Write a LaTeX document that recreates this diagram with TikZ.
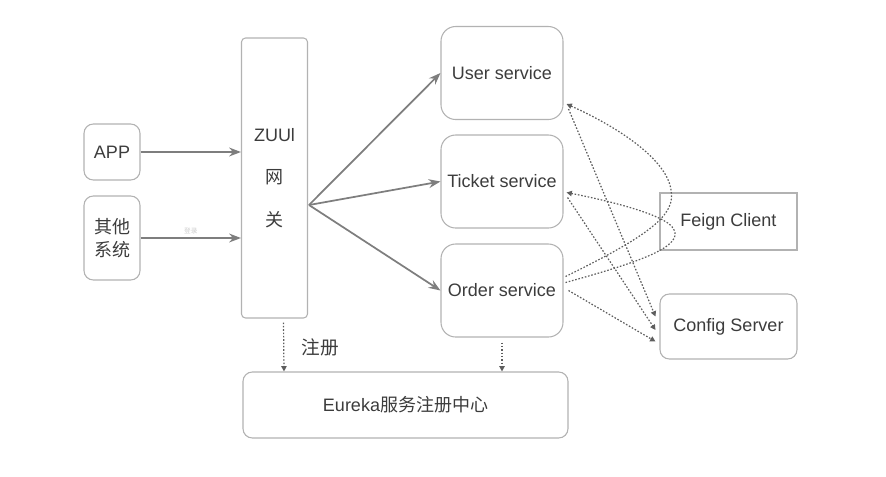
\documentclass[tikz,border=0pt]{standalone}
\usepackage{fontspec}
\setmainfont{Liberation Sans}
\newfontfamily\cjk{Noto Sans CJK SC}
\usetikzlibrary{arrows.meta, calc}
\definecolor{boxgray}{HTML}{B2B2B2}
\definecolor{txtgray}{HTML}{3C3C3C}
\definecolor{arrgray}{HTML}{7E7E7E}
\definecolor{dotgray}{HTML}{5E5E5E}

\begin{document}
\begin{tikzpicture}[x=0.75pt, y=-0.75pt, font=\fontsize{13.5}{16}\selectfont, >=Stealth,
    box/.style={draw=boxgray, line width=0.8pt, text=txtgray, align=center, inner sep=0pt},
    srv/.style={box, rounded corners=11pt, minimum width=91.5pt, minimum height=69.75pt},
    call/.style={->, draw=arrgray, line width=1.3pt},
    reg/.style={-{Triangle[length=4pt,width=4pt]}, draw=dotgray, line width=0.9pt, dash pattern=on 1.2pt off 1.3pt}]
    \useasboundingbox (0,0) rectangle (886,476);
    % clients
    \node[box, rounded corners=7pt, minimum width=42pt, minimum height=42pt] (app) at (112,152) {APP};
    \node[box, rounded corners=7pt, minimum width=42pt, minimum height=63pt] (other) at (112,238) {\cjk 其他\\[1pt]\cjk 系统};
    % gateway
    \node[box, rounded corners=3pt, minimum width=49.5pt, minimum height=210pt] (zuul) at (274.5,178) {ZUUl\\[16pt]\cjk 网\\[16pt]\cjk 关};
    \coordinate (fork) at (309,205);
    % services
    \node[srv] (user) at (502,73) {User service};
    \node[srv] (ticket) at (502,181.5) {Ticket service};
    \node[srv] (order) at (502,290.5) {Order service};
    \node[box, minimum width=102.75pt, minimum height=42.75pt] (feign) at (728.5,221.5) {Feign Client};
    \node[box, rounded corners=7pt, minimum width=102.75pt, minimum height=48.75pt] (config) at (728.5,326.5) {Config Server};
    \node[box, rounded corners=7pt, minimum width=243.75pt, minimum height=49.5pt] (eureka) at (405.5,405) {Eureka{\cjk 服务注册中心}};

    \draw[call] (app.east) -- (app.east -| zuul.west);
    \draw[call] (other.east) -- node[above=-1pt, font=\cjk\fontsize{5}{6}\selectfont, text=black!20]{登录} (other.east -| zuul.west);
    \draw[call] (fork) -- (user.west);
    \draw[call] (fork) -- (ticket.west);
    \draw[call] (fork) -- (order.west);

    % registration
    \draw[reg] ($(zuul.south)+(9,4)$) -- ($(eureka.north)+(-121.5,0)$);
    \draw[reg] ($(order.south)+(0,5)$) -- (eureka.north -| order.south);
    \node[text=txtgray, font=\cjk\fontsize{14}{16}\selectfont] (zhuce) at (320,347) {注册};

    % feign calls
    \draw[reg] ($(order.east)+(2,-14)$) .. controls (650,235) and (676,215) .. (671,190)
        .. controls (667,160) and (620,128) .. ($(user.east)+(3,31)$);
    \draw[reg] ($(order.east)+(2,-8)$) .. controls (640,262) and (686,246) .. (673,228)
        .. controls (664,214) and (605,200) .. ($(ticket.east)+(3,11)$);
    % config
    \draw[reg] ($(user.east)+(5,36)$) -- ($(config.west)+(-4,-10)$);
    \draw[reg] ($(ticket.east)+(4,16)$) -- ($(config.west)+(-4,3.5)$);
    \draw[reg] ($(order.east)+(5,0)$) -- ($(config.west)+(-4,15)$);
\end{tikzpicture}
\end{document}
